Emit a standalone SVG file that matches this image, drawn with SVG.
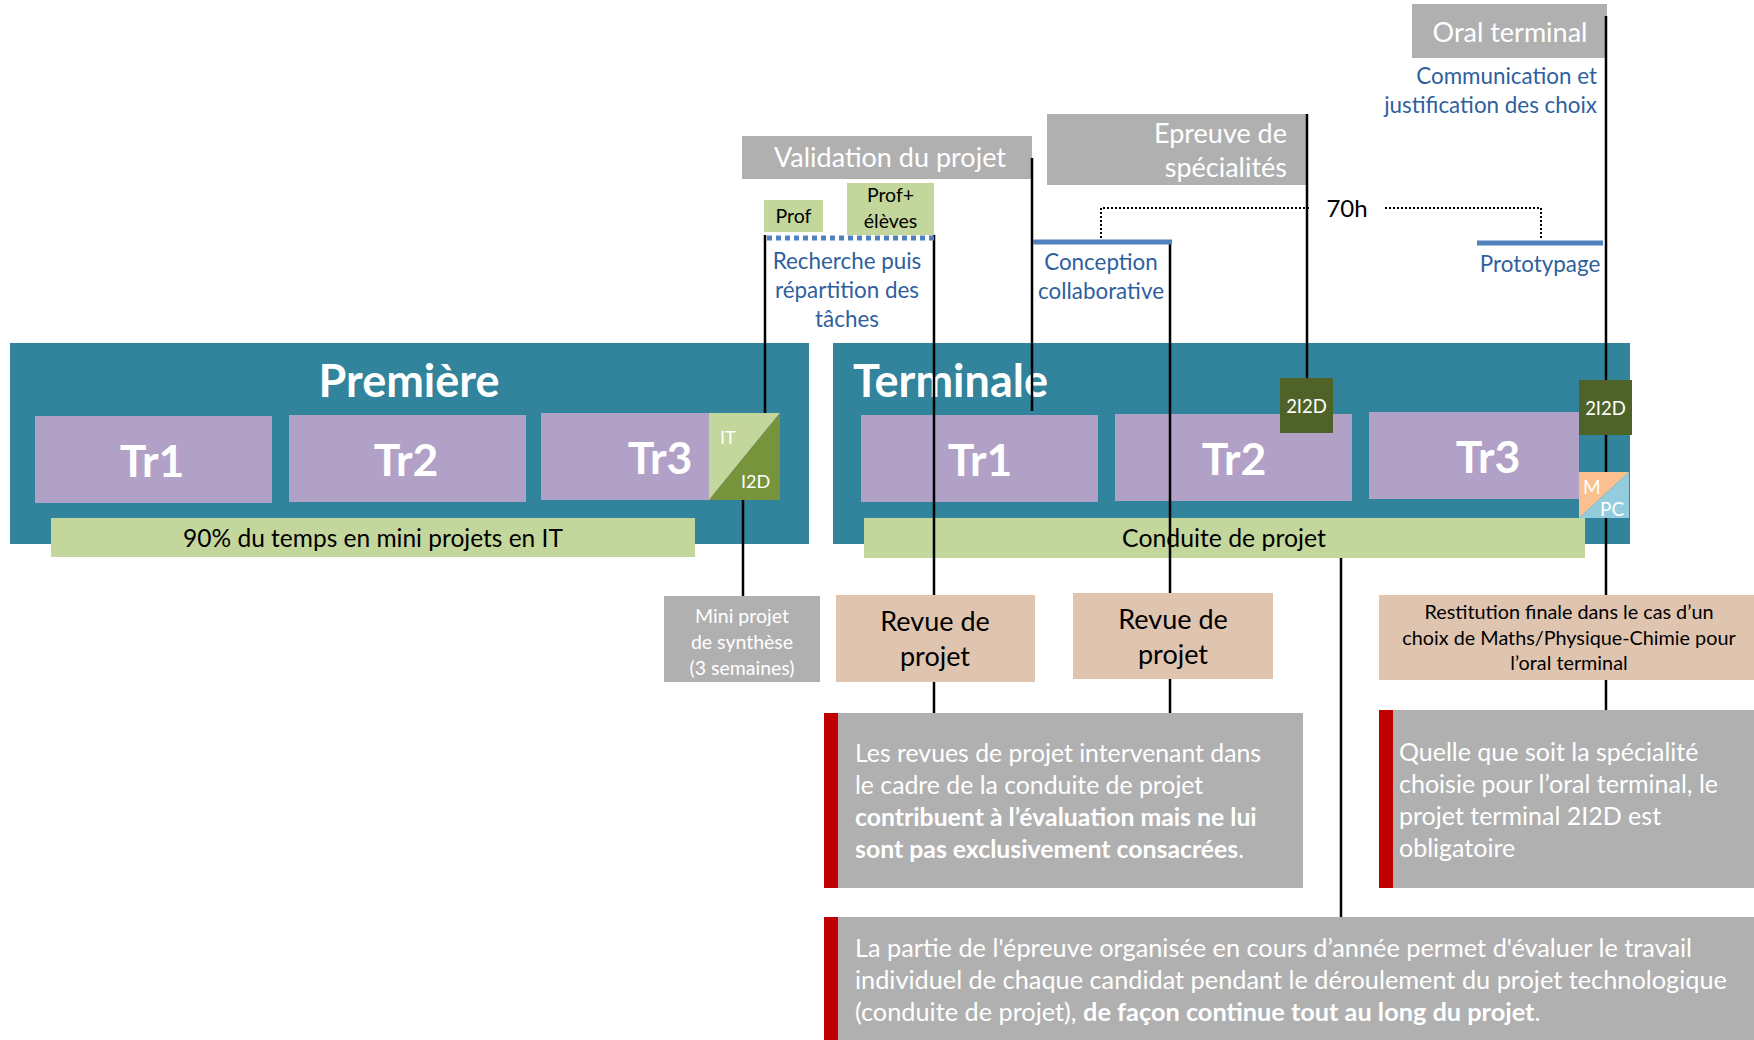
<svg xmlns="http://www.w3.org/2000/svg" width="1754" height="1040" viewBox="0 0 1754 1040">
<style>
text{font-family:Lato,"Open Sans","Liberation Sans",sans-serif}
.band{fill:#31849b}
.tr{fill:#b2a1c7}
.trt{fill:#fff;font-weight:bold;font-size:44.5px;text-anchor:middle}
.lg{fill:#c3d69b}
.gray{fill:#b0b0b0}
.tan{fill:#dfc4b0}
.red{fill:#c00000}
.olive{fill:#4f6228}
.wt{fill:#fff}
.bk{fill:#000}
.blue{fill:#2f5f9e}
.c{text-anchor:middle}
.r{text-anchor:end}
.b{font-weight:bold}
.ln{stroke:#000;stroke-width:2.5;fill:none}
.dot{stroke:#000;stroke-width:2;stroke-dasharray:2 2;fill:none}
.bl{stroke:#4f81bd;stroke-width:5;fill:none}
</style>

<g id="premiere">
<rect class="band" x="10" y="343" width="799" height="201"/>
<text class="wt b c" x="409" y="397" font-size="45">Première</text>
</g>
<g id="p-tr1"><rect class="tr" x="35" y="416" width="237" height="87"/><text class="trt" x="152" y="477">Tr1</text></g>
<g id="p-tr2"><rect class="tr" x="289" y="415" width="237" height="87"/><text class="trt" x="406" y="476">Tr2</text></g>
<g id="p-tr3"><rect class="tr" x="541" y="413" width="170" height="87"/><text class="trt" x="660" y="474">Tr3</text></g>
<g id="p-bar"><rect class="lg" x="51" y="518" width="644" height="39"/><text class="bk c" x="373" y="547" font-size="24.5">90% du temps en mini projets en IT</text></g>

<g id="terminale">
<rect class="band" x="833" y="343" width="797" height="201"/>
<text class="wt b" x="853" y="397" font-size="45">Terminale</text>
</g>
<g id="t-tr1"><rect class="tr" x="861" y="415" width="237" height="87"/><text class="trt" x="980" y="476">Tr1</text></g>
<g id="t-tr2"><rect class="tr" x="1115" y="414" width="237" height="87"/><text class="trt" x="1234" y="475">Tr2</text></g>
<g id="t-tr3"><rect class="tr" x="1369" y="412" width="210" height="87"/><text class="trt" x="1488" y="473">Tr3</text></g>
<g id="t-bar"><rect class="lg" x="864" y="518" width="721" height="40"/><text class="bk c" x="1224" y="547" font-size="24.8">Conduite de projet</text></g>

<g id="validation"><rect class="gray" x="742" y="136" width="290" height="43"/><text class="wt c" x="890" y="167" font-size="27">Validation du projet</text></g>
<g id="epreuve"><rect class="gray" x="1047" y="114" width="260" height="71"/><text class="wt r" x="1287" y="143" font-size="27">Epreuve de</text><text class="wt r" x="1287" y="177" font-size="27">spécialités</text></g>
<g id="oral"><rect class="gray" x="1412" y="4" width="195" height="54"/><text class="wt c" x="1510" y="42" font-size="27">Oral terminal</text></g>
<g id="comm"><text class="blue r" x="1597" y="84" font-size="22.4">Communication et</text><text class="blue r" x="1597" y="113" font-size="22.4">justification des choix</text></g>
<g id="prof"><rect class="lg" x="764" y="200" width="59" height="32"/><text class="bk c" x="793.5" y="223" font-size="19.5">Prof</text></g>
<g id="prof-eleves"><rect class="lg" x="847" y="183" width="87" height="52"/><text class="bk c" x="890.5" y="202" font-size="19.5">Prof+</text><text class="bk c" x="890.5" y="228" font-size="19.5">élèves</text></g>
<g id="recherche"><text class="blue c" x="847" y="269" font-size="22.4">Recherche puis</text><text class="blue c" x="847" y="298" font-size="22.4">répartition des</text><text class="blue c" x="847" y="327" font-size="22.4">tâches</text></g>
<g id="conception"><text class="blue c" x="1101" y="270" font-size="22.4">Conception</text><text class="blue c" x="1101" y="299" font-size="22.4">collaborative</text></g>
<g id="h70"><text class="bk c" x="1347" y="217" font-size="24">70h</text></g>
<g id="prototypage"><text class="blue c" x="1540" y="272" font-size="22.4">Prototypage</text></g>

<g id="mini-projet"><rect class="gray" x="664" y="596" width="156" height="86"/>
<text class="wt c" x="742" y="623" font-size="19.5">Mini projet</text><text class="wt c" x="742" y="649" font-size="19.5">de synthèse</text><text class="wt c" x="742" y="675" font-size="19.5">(3 semaines)</text></g>
<g id="revue1"><rect class="tan" x="836" y="595" width="199" height="87"/><text class="bk c" x="935" y="631" font-size="27">Revue de</text><text class="bk c" x="935" y="666" font-size="27">projet</text></g>
<g id="revue2"><rect class="tan" x="1073" y="593" width="200" height="86"/><text class="bk c" x="1173" y="629" font-size="27">Revue de</text><text class="bk c" x="1173" y="664" font-size="27">projet</text></g>
<g id="restitution"><rect class="tan" x="1379" y="595" width="375" height="85"/>
<text class="bk c" x="1569" y="619" font-size="19.8">Restitution finale dans le cas d’un</text><text class="bk c" x="1569" y="645" font-size="19.8">choix de Maths/Physique-Chimie pour</text><text class="bk c" x="1569" y="670" font-size="19.8">l’oral terminal</text></g>

<g id="note1"><rect class="gray" x="824" y="713" width="479" height="175"/><rect class="red" x="824" y="713" width="14" height="175"/>
<text class="wt" x="855" y="762" font-size="24.8">Les revues de projet intervenant dans</text>
<text class="wt" x="855" y="794" font-size="24.8">le cadre de la conduite de projet</text>
<text class="wt b" x="855" y="826" font-size="24.8">contribuent à l’évaluation mais ne lui</text>
<text class="wt" x="855" y="858" font-size="24.8"><tspan class="b">sont pas exclusivement consacrées</tspan>.</text></g>
<g id="note2"><rect class="gray" x="1379" y="710" width="375" height="178"/><rect class="red" x="1379" y="710" width="14" height="178"/>
<text class="wt" x="1399" y="761" font-size="25">Quelle que soit la spécialité</text>
<text class="wt" x="1399" y="793" font-size="25">choisie pour l’oral terminal, le</text>
<text class="wt" x="1399" y="825" font-size="25">projet terminal 2I2D est</text>
<text class="wt" x="1399" y="857" font-size="25">obligatoire</text></g>
<g id="note3"><rect class="gray" x="824" y="917" width="930" height="123"/><rect class="red" x="824" y="917" width="14" height="123"/>
<text class="wt" x="855" y="957" font-size="25.3">La partie de l'épreuve organisée en cours d’année permet d'évaluer le travail</text>
<text class="wt" x="855" y="989" font-size="25.3">individuel de chaque candidat pendant le déroulement du projet technologique</text>
<text class="wt" x="855" y="1021" font-size="25.3">(conduite de projet), <tspan class="b">de façon continue tout au long du projet</tspan>.</text></g>

<g id="connectors">
<line class="ln" x1="765" y1="235" x2="765" y2="413"/>
<line class="ln" x1="743" y1="500" x2="743" y2="596"/>
<line class="ln" x1="934" y1="235" x2="934" y2="595"/>
<line class="ln" x1="934" y1="682" x2="934" y2="713"/>
<line class="ln" x1="1032" y1="158" x2="1032" y2="411"/>
<line class="ln" x1="1170" y1="242" x2="1170" y2="593"/>
<line class="ln" x1="1170" y1="679" x2="1170" y2="713"/>
<line class="ln" x1="1307" y1="114" x2="1307" y2="378"/>
<line class="ln" x1="1341" y1="558" x2="1341" y2="917"/>
<line class="ln" x1="1606" y1="16" x2="1606" y2="380"/>
<line class="ln" x1="1606" y1="435" x2="1606" y2="472"/>
<line class="ln" x1="1606" y1="518" x2="1606" y2="595"/>
<line class="ln" x1="1606" y1="680" x2="1606" y2="710"/>
<path class="dot" d="M1101,238 V208 H1311"/>
<path class="dot" d="M1385,208 H1541 V238"/>
<line stroke="#4f81bd" stroke-width="5" stroke-dasharray="5 4" x1="767" y1="238" x2="934" y2="238"/>
<line class="bl" x1="1033" y1="242" x2="1172" y2="242"/>
<line class="bl" x1="1477" y1="243" x2="1603" y2="243"/>
</g>

<g id="it-i2d">
<polygon points="709,413 780,413 709,500" fill="#c3d69b"/>
<polygon points="780,413 780,500 709,500" fill="#77933c"/>
<text class="wt" x="720" y="444" font-size="18">IT</text>
<text class="wt" x="741" y="488" font-size="18">I2D</text>
</g>
<g id="t-2i2d-a"><rect class="olive" x="1280" y="378" width="53" height="55"/><text class="wt c" x="1306.5" y="413" font-size="18.5">2I2D</text></g>
<g id="t-2i2d-b"><rect class="olive" x="1579" y="380" width="53" height="55"/><text class="wt c" x="1605.5" y="415" font-size="18.5">2I2D</text></g>
<g id="m-pc">
<polygon points="1579,472 1629,472 1579,518" fill="#fac090"/>
<polygon points="1629,472 1629,518 1579,518" fill="#93cddd"/>
<text class="wt" x="1583" y="494" font-size="19">M</text>
<text class="wt" x="1600" y="516" font-size="19">PC</text>
</g>
</svg>
